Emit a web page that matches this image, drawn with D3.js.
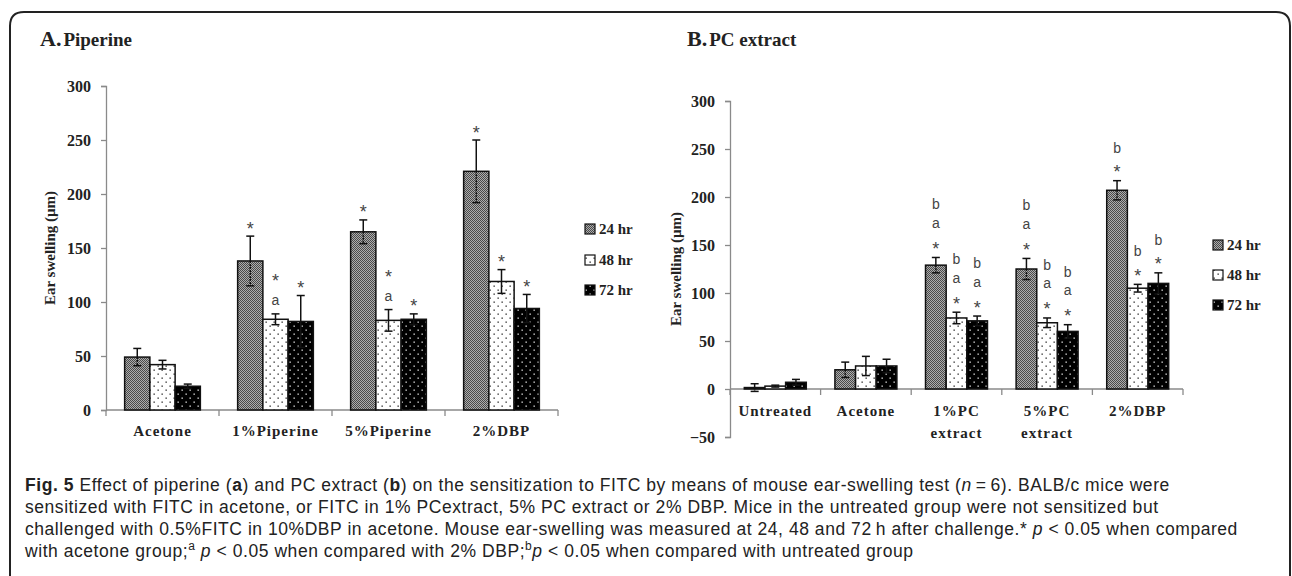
<!DOCTYPE html>
<html>
<head>
<meta charset="utf-8">
<script src="https://cdn.jsdelivr.net/npm/d3@7"></script>
<style>
body { margin: 0; background: #fff; }
</style>
</head>
<body>
<div id="fig"></div>
<script>
const series = ['24 hr', '48 hr', '72 hr'];

// panel A: piperine
const groupsA = ['Acetone', '1%Piperine', '5%Piperine', '2%DBP'];
const meanA24 = [49, 138, 165, 221];
const meanA48 = [42, 84, 83, 119];
const meanA72 = [22, 82, 84, 94];
const errA24 = [8, 23, 11, 29];
const errA48 = [4, 5, 10, 11];
const errA72 = [2, 24, 5, 13];
// letters listed from the bottom up
const marksA24 = ['', '*', '*', '*'];
const marksA48 = ['', 'a*', 'a*', '*'];
const marksA72 = ['', '*', '*', '*'];
const yTicksA = [0, 50, 100, 150, 200, 250, 300];

// panel B: PC extract
const groupsB = ['Untreated', 'Acetone', '1%PC extract', '5%PC extract', '2%DBP'];
const meanB24 = [1.5, 20, 129, 125, 207];
const meanB48 = [3, 24, 74, 69, 105];
const meanB72 = [7, 24, 71, 60, 110];
const errB24 = [4, 8, 8, 11, 10];
const errB48 = [1, 10, 6, 5, 4];
const errB72 = [3, 7, 5, 7, 11];
const marksB24 = ['', '', '*ab', '*ab', '*b'];
const marksB48 = ['', '', '*ab', '*ab', '*b'];
const marksB72 = ['', '', '*ab', '*ab', '*b'];
const yTicksB = [-50, 0, 50, 100, 150, 200, 250, 300];

const serif = '"Liberation Serif", "Times New Roman", serif';
const sans = '"Liberation Sans", Arial, sans-serif';

const svg = d3.select('#fig').append('svg')
    .attr('width', 1292)
    .attr('height', 576);

let defs = svg.append('defs');

// 24 hr: fine grey dither
let p24 = defs.append('pattern').attr('id', 'p24')
    .attr('patternUnits', 'userSpaceOnUse').attr('width', 2).attr('height', 2);
p24.append('rect').attr('width', 2).attr('height', 2).attr('fill', '#adadad');
p24.append('rect').attr('width', 1).attr('height', 1).attr('fill', '#4a4a4a');
p24.append('rect').attr('x', 1).attr('y', 1).attr('width', 1).attr('height', 1).attr('fill', '#4a4a4a');

// 48 hr / 72 hr: sparse dots
function dots(id, bg, fg) {
    let p = defs.append('pattern').attr('id', id)
        .attr('patternUnits', 'userSpaceOnUse').attr('width', 8).attr('height', 8);
    p.append('rect').attr('width', 8).attr('height', 8).attr('fill', bg);
    p.append('rect').attr('x', 1.5).attr('y', 1.5).attr('width', 1.3).attr('height', 1.3).attr('fill', fg);
    p.append('rect').attr('x', 5.5).attr('y', 5.5).attr('width', 1.3).attr('height', 1.3).attr('fill', fg);
}
dots('p48', '#fff', '#222');
dots('p72', '#000', '#eee');
const fills = ['url(#p24)', 'url(#p48)', 'url(#p72)'];

// frame
svg.append('path')
    .attr('d', 'M10,580 L10,26 Q10,12 24,12 L1276,12 Q1290,12 1290,26 L1290,580')
    .attr('fill', 'none')
    .attr('stroke', '#222')
    .attr('stroke-width', 2);

function drawPanel(o) {
    let g = svg.append('g');
    let y = d3.scaleLinear().domain(o.yDomain).range(o.yRange);
    let x = d3.scaleBand().domain(o.groups).range(o.xRange);
    let bw = x.bandwidth();
    let xs = d3.scaleBand().domain(series).range([bw * o.inset, bw * (1 - o.inset)]);

    // title
    let t = g.append('text')
        .attr('x', o.titleX).attr('y', 46)
        .attr('font-family', serif).attr('font-weight', 'bold').attr('fill', '#222');
    t.append('tspan').attr('font-size', 22).text(o.titleLetter);
    t.append('tspan').attr('font-size', 19).attr('dx', 2).text(o.titleText);

    // y axis
    let ax = g.append('g')
        .attr('transform', 'translate(' + o.xRange[0] + ',0)')
        .call(d3.axisLeft(y).tickValues(o.yTicks).tickSizeOuter(0).tickSize(5).tickPadding(10));
    ax.select('.domain').attr('stroke', '#8a8a8a').attr('stroke-width', 1.3);
    ax.selectAll('.tick line').attr('stroke', '#8a8a8a').attr('stroke-width', 1.3);
    ax.selectAll('.tick text')
        .attr('font-family', serif).attr('font-weight', 'bold').attr('font-size', 16).attr('fill', '#222');

    g.append('text')
        .attr('transform', 'translate(' + o.yLabelX + ',' + ((o.yRange[0] + o.yRange[1]) / 2) + ') rotate(-90)')
        .attr('text-anchor', 'middle')
        .attr('dominant-baseline', 'central')
        .attr('font-family', serif).attr('font-weight', 'bold').attr('font-size', 15).attr('fill', '#222')
        .text('Ear swelling (\u00b5m)');

    // x axis line with boundary ticks
    let y0 = y(0);
    g.append('line')
        .attr('x1', o.xRange[0]).attr('x2', o.xRange[1])
        .attr('y1', y0).attr('y2', y0)
        .attr('stroke', '#8a8a8a').attr('stroke-width', 1.3);
    let bounds = o.groups.map(d => x(d)).concat([o.xRange[1]]);
    g.selectAll('.xt').data(bounds).join('line')
        .attr('x1', d => d).attr('x2', d => d)
        .attr('y1', y0).attr('y2', y0 + 6)
        .attr('stroke', '#8a8a8a').attr('stroke-width', 1.3);

    // bars
    o.means.forEach((vals, si) => {
        let rows = o.groups.map((grp, i) => ({
            grp: grp, v: vals[i], e: o.errs[si][i], m: o.marks[si][i]
        }));
        let sg = g.append('g');
        sg.selectAll('rect').data(rows).join('rect')
            .attr('x', d => x(d.grp) + xs(series[si]))
            .attr('width', xs.bandwidth())
            .attr('y', d => Math.min(y(d.v), y0))
            .attr('height', d => Math.abs(y0 - y(d.v)))
            .attr('fill', fills[si])
            .attr('stroke', '#111')
            .attr('stroke-width', 1.5);

        let cx = d => x(d.grp) + xs(series[si]) + xs.bandwidth() / 2;
        // upper half of error bar
        sg.selectAll('.eu').data(rows).join('line')
            .attr('x1', cx).attr('x2', cx)
            .attr('y1', d => y(d.v)).attr('y2', d => y(d.v + d.e))
            .attr('stroke', '#111').attr('stroke-width', 1.5);
        // lower half (shows dotted over the dithered bars)
        sg.selectAll('.el').data(rows).join('line')
            .attr('x1', cx).attr('x2', cx)
            .attr('y1', d => y(d.v)).attr('y2', d => y(d.v - d.e))
            .attr('stroke', '#111').attr('stroke-width', 1.5)
            .attr('stroke-dasharray', si === 0 ? '2,1' : null);
        [1, -1].forEach(s => {
            sg.selectAll('.cap' + s).data(rows).join('line')
                .attr('x1', d => cx(d) - 4).attr('x2', d => cx(d) + 4)
                .attr('y1', d => y(d.v + s * d.e)).attr('y2', d => y(d.v + s * d.e))
                .attr('stroke', '#111').attr('stroke-width', 1.5);
        });

        // significance letters, stacked from the error bar upwards
        rows.forEach(d => {
            d.m.split('').forEach((ch, k) => {
                let c = y(d.v + d.e) - o.markGap - k * o.markStep;
                let star = ch === '*';
                let off = star ? 10.5 : (ch === 'b' ? 5 : 3.5);
                sg.append('text')
                    .attr('x', cx(d)).attr('y', c + off)
                    .attr('text-anchor', 'middle')
                    .attr('font-family', sans).attr('font-size', star ? 18 : 14).attr('fill', '#444')
                    .text(ch);
            });
        });
    });

    // category labels
    o.groups.forEach(grp => {
        let lines = o.labelLines(grp);
        let tx = g.append('text')
            .attr('x', x(grp) + bw / 2).attr('y', o.labelY)
            .attr('text-anchor', 'middle')
            .attr('font-family', serif).attr('font-weight', 'bold').attr('font-size', 15)
            .attr('letter-spacing', 1).attr('fill', '#222');
        lines.forEach((l, i) => {
            tx.append('tspan').attr('x', x(grp) + bw / 2).attr('dy', i === 0 ? 0 : 22).text(l);
        });
    });

    // legend
    series.forEach((s, i) => {
        let ly = o.legendY[i];
        g.append('rect')
            .attr('x', o.legendX).attr('y', ly - 5)
            .attr('width', 10).attr('height', 10)
            .attr('fill', fills[i]).attr('stroke', '#111').attr('stroke-width', 1.2);
        g.append('text')
            .attr('x', o.legendX + 14).attr('y', ly + 5)
            .attr('font-family', serif).attr('font-weight', 'bold').attr('font-size', 15).attr('fill', '#222')
            .text(s);
    });
}

drawPanel({
    groups: groupsA,
    means: [meanA24, meanA48, meanA72],
    errs: [errA24, errA48, errA72],
    marks: [marksA24, marksA48, marksA72],
    yTicks: yTicksA,
    yDomain: [0, 300], yRange: [410, 86],
    xRange: [106, 558], inset: 0.165,
    titleX: 40, titleLetter: 'A.', titleText: 'Piperine',
    yLabelX: 50,
    labelY: 436, labelLines: d => [d],
    markGap: 12, markStep: 25,
    legendX: 585, legendY: [229, 260, 290]
});

drawPanel({
    groups: groupsB,
    means: [meanB24, meanB48, meanB72],
    errs: [errB24, errB48, errB72],
    marks: [marksB24, marksB48, marksB72],
    yTicks: yTicksB,
    yDomain: [-50, 300], yRange: [437, 101],
    xRange: [730, 1183], inset: 0.158,
    titleX: 687, titleLetter: 'B.', titleText: 'PC extract',
    yLabelX: 676,
    labelY: 416, labelLines: d => d.indexOf(' ') > 0 ? d.split(' ') : [d],
    markGap: 13, markStep: 20,
    legendX: 1213, legendY: [245, 275, 305]
});

// caption
let cap = svg.append('g')
    .attr('font-family', sans).attr('font-size', 17.5).attr('letter-spacing', 0.55).attr('fill', '#222');

function capLine(yy, parts) {
    let t = cap.append('text').attr('x', 25).attr('y', yy);
    parts.forEach(p => {
        let s = t.append('tspan').text(p[0]);
        if (p[1] === 'b') s.attr('font-weight', 'bold');
        if (p[1] === 'i') s.attr('font-style', 'italic');
        if (p[1] === 'sup') s.attr('font-size', 12).attr('baseline-shift', 'super');
    });
}
capLine(491, [['Fig. 5', 'b'], [' Effect of piperine ('], ['a', 'b'], [') and PC extract ('], ['b', 'b'],
    [') on the sensitization to FITC by means of mouse ear-swelling test ('], ['n', 'i'], ['\u2009=\u20096). BALB/c mice were']]);
capLine(513, [['sensitized with FITC in acetone, or FITC in 1% PCextract, 5% PC extract or 2% DBP. Mice in the untreated group were not sensitized but']]);
capLine(535, [['challenged with 0.5%FITC in 10%DBP in acetone. Mouse ear-swelling was measured at 24, 48 and 72\u2009h after challenge.* '],
    ['p', 'i'], [' < 0.05 when compared']]);
capLine(557, [['with acetone group;'], ['a', 'sup'], [' '], ['p', 'i'], [' < 0.05 when compared with 2% DBP;'], ['b', 'sup'],
    ['p', 'i'], [' < 0.05 when compared with untreated group']]);
</script>
</body>
</html>
